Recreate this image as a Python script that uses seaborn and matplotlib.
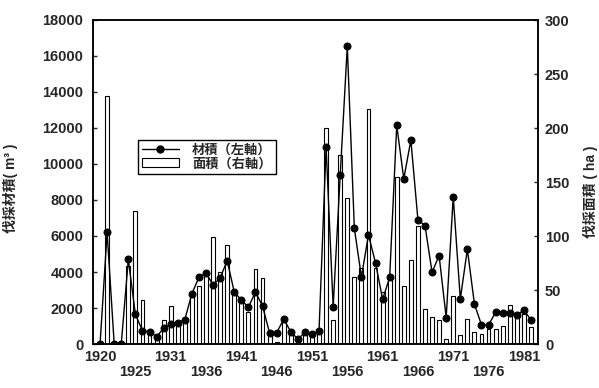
import matplotlib
matplotlib.use("Agg")
import matplotlib.pyplot as plt
from matplotlib.lines import Line2D
from matplotlib.patches import Patch
import seaborn as sns
import pandas as pd
import numpy as np

# ---- data ----
years = list(range(1920, 1982))
volume = [0, 6200, 0, 0, 4700, 1650, 740, 690, 410, 870,
          1110, 1170, 1360, 2800, 3700, 3950, 3280, 3670, 4630, 2880,
          2450, 2040, 2890, 2110, 610, 630, 1370, 690, 270, 640,
          540, 730, 10960, 2070, 9390, 16540, 6430, 3720, 6060, 4500,
          2480, 3700, 12150, 9170, 11330, 6900, 6580, 3990, 4910, 1470,
          8190, 2500, 5260, 2220, 1060, 1060, 1760, 1700, 1700, 1610,
          1870, 1350]
area = [0, 230, 0, 0, 72, 123, 41, 13, 8, 22,
        35, 20, 24, 44, 54, 64, 99, 67, 92, 48,
        40, 30, 69, 61, 8, 2, 23, 10, 4, 10,
        10, 14, 200, 22, 175, 135, 62, 70, 218, 70,
        48, 62, 155, 54, 78, 109, 32, 25, 22, 5,
        44, 8, 23, 11, 9, 14, 14, 17, 36, 30,
        28, 16]
tick_labels = ["1920", "1925", "1931", "1936", "1941", "1946", "1951",
               "1956", "1961", "1966", "1971", "1976", "1981"]
legend_labels = ["材積（左軸）", "面積（右軸）"]
left_label = "伐採材積( m³ )"
right_label = "伐採面積 ( ha )"

df = pd.DataFrame({"year": years, "volume": volume, "area": area})
df["pos"] = np.arange(len(df))

sns.set_style("white")
plt.rcParams["font.family"] = ["Liberation Sans", "Noto Sans CJK JP"]
plt.rcParams["font.weight"] = "bold"

fig = plt.figure(figsize=(5.99, 3.88), dpi=100)
ax = fig.add_axes([93 / 599, 1 - 344 / 388, 445 / 599, 324 / 388])
ax2 = ax.twinx()

sns.barplot(data=df, x="year", y="area", ax=ax2, color="white",
            edgecolor="black", linewidth=0.8, width=0.55, saturation=1)
sns.lineplot(data=df, x="pos", y="volume", ax=ax, color="black",
             marker="o", markersize=5, markeredgecolor="black",
             linewidth=1.0)

ax.set_zorder(ax2.get_zorder() + 1)
ax.patch.set_visible(False)

ax.set_xlim(-1, 62)
ax.set_ylim(0, 18000)
ax2.set_ylim(0, 300)
ax.set_yticks(np.arange(0, 18001, 2000))
ax2.set_yticks(np.arange(0, 301, 50))

major_pos = list(range(0, 61, 10))
minor_pos = list(range(5, 60, 10))
ax.set_xticks(major_pos)
ax.set_xticklabels(tick_labels[0::2])
ax.set_xticks(minor_pos, minor=True)
ax.set_xticklabels(tick_labels[1::2], minor=True)
ax.tick_params(axis="x", which="major", length=0, pad=4.5, labelsize=10.5)
ax.tick_params(axis="x", which="minor", length=0, pad=15, labelsize=10.5)
ax.tick_params(axis="y", direction="in", length=3, width=1, pad=7,
               labelsize=10.5, left=True, right=False)
ax2.tick_params(axis="y", direction="in", length=3, width=1, pad=5,
                labelsize=10.5, right=True)

ax.set_xlabel("")
ax2.set_xlabel("")
ax.set_ylabel(left_label, fontsize=10, fontweight="bold")
ax2.set_ylabel(right_label, fontsize=10, fontweight="bold")
ax.yaxis.set_label_coords(-0.168, 0.48)
ax2.yaxis.set_label_coords(1.101, 0.47)

for a in (ax, ax2):
    for s in a.spines.values():
        s.set_visible(True)
        s.set_color("black")
        s.set_linewidth(1.1)

handles = [Line2D([], [], color="black", marker="o", markersize=5, lw=1),
           Patch(facecolor="white", edgecolor="black", linewidth=0.8)]
leg = ax.legend(handles, legend_labels, loc="upper left",
                bbox_to_anchor=(0.101, 0.63), frameon=True, fancybox=False,
                edgecolor="black", framealpha=1, fontsize=9.5,
                handlelength=2.8, handletextpad=1.0, borderpad=0.3,
                labelspacing=0.1, borderaxespad=0)
leg.get_frame().set_linewidth(1.0)

fig.savefig("out.png", dpi=100)
